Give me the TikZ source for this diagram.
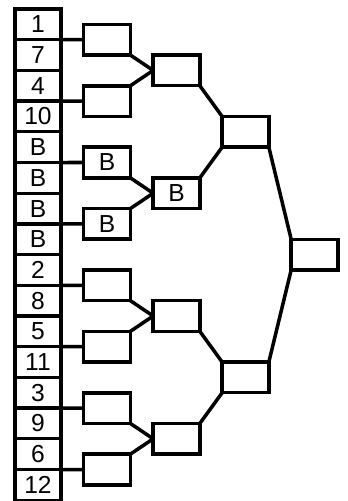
\documentclass[tikz,border=0pt]{standalone}
\usepackage{fontspec}
\setmainfont{Liberation Sans}
\usetikzlibrary{positioning}

\begin{document}
\begin{tikzpicture}[
  x=0.03cm, y=-0.03cm,
  every node/.style={font=\fontsize{21}{25}\selectfont},
  cell/.style ={draw, line width=2.8pt, outer sep=0pt, inner sep=0pt,
                minimum width=1.38cm, minimum height=0.921cm},
  slot/.style ={draw, line width=3pt, outer sep=0pt, inner sep=0pt,
                minimum width=1.4cm, minimum height=0.92cm},
  link/.style ={line width=3pt},
  node distance=0pt
]
\useasboundingbox (0,0) rectangle (348,501);

%% ---- Seed column -------------------------------------------------
\node[cell]               (c1)  at (38,24.35) {1};
\node[cell, below=of c1]  (c2)  {7};
\node[cell, below=of c2]  (c3)  {4};
\node[cell, below=of c3]  (c4)  {10};
\node[cell, below=of c4]  (c5)  {B};
\node[cell, below=of c5]  (c6)  {B};
\node[cell, below=of c6]  (c7)  {B};
\node[cell, below=of c7]  (c8)  {B};
\node[cell, below=of c8]  (c9)  {2};
\node[cell, below=of c9]  (c10) {8};
\node[cell, below=of c10] (c11) {5};
\node[cell, below=of c11] (c12) {11};
\node[cell, below=of c12] (c13) {3};
\node[cell, below=of c13] (c14) {9};
\node[cell, below=of c14] (c15) {6};
\node[cell, below=of c15] (c16) {12};

%% ---- First round -------------------------------------------------
\node[slot] (r1) at (107,39.7)  {};
\node[slot] (r2) at (107,101.1) {};
\node[slot] (r3) at (107,162.5) {B};
\node[slot] (r4) at (107,223.9) {B};
\node[slot] (r5) at (107,285.3) {};
\node[slot] (r6) at (107,346.7) {};
\node[slot] (r7) at (107,408.1) {};
\node[slot] (r8) at (107,469.5) {};

%% ---- Second round ------------------------------------------------
\node[slot] (q1) at (176.5,70.4)  {};
\node[slot] (q2) at (176.5,193.2) {B};
\node[slot] (q3) at (176.5,316)   {};
\node[slot] (q4) at (176.5,438.8) {};

%% ---- Semifinals and final ----------------------------------------
\node[slot] (s1) at (245.5,131.8) {};
\node[slot] (s2) at (245.5,377.4) {};
\node[slot] (fin) at (314.5,254.6) {};

%% ---- Links from the column ---------------------------------------
\draw[link] (c1.south east)  -- (r1.west);
\draw[link] (c3.south east)  -- (r2.west);
\draw[link] (c5.south east)  -- (r3.west);
\draw[link] (c7.south east)  -- (r4.west);
\draw[link] (c9.south east)  -- (r5.west);
\draw[link] (c11.south east) -- (r6.west);
\draw[link] (c13.south east) -- (r7.west);
\draw[link] (c15.south east) -- (r8.west);

%% ---- Bracket links -----------------------------------------------
\draw[link] (r1.south east) -- (q1.west);
\draw[link] (r2.north east) -- (q1.west);
\draw[link] (r3.south east) -- (q2.west);
\draw[link] (r4.north east) -- (q2.west);
\draw[link] (r5.south east) -- (q3.west);
\draw[link] (r6.north east) -- (q3.west);
\draw[link] (r7.south east) -- (q4.west);
\draw[link] (r8.north east) -- (q4.west);

\draw[link] (q1.south east) -- (s1.north west);
\draw[link] (q2.north east) -- (s1.south west);
\draw[link] (q3.south east) -- (s2.north west);
\draw[link] (q4.north east) -- (s2.south west);

\draw[link] (s1.south east) -- (fin.north west);
\draw[link] (s2.north east) -- (fin.south west);

\end{tikzpicture}
\end{document}
